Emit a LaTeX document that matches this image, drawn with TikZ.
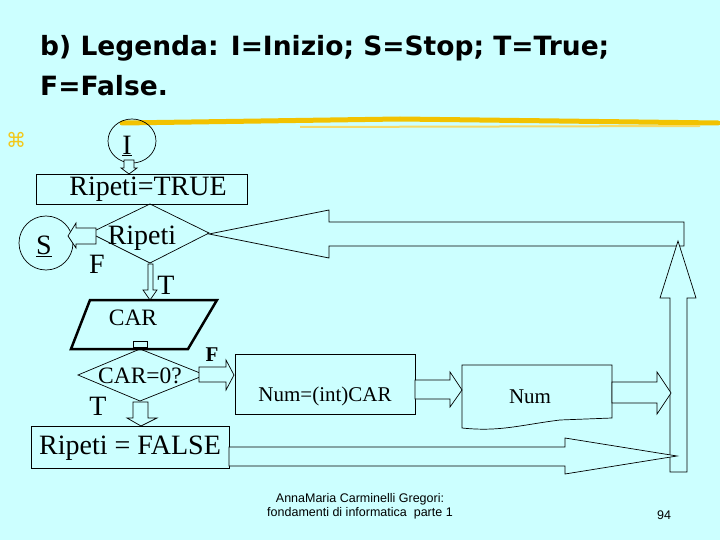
\documentclass[tikz,border=0pt]{standalone}
\usepackage{fontspec}
\setmainfont{Liberation Serif}
\newfontfamily\hd{Liberation Sans}
\newfontfamily\djfont{DejaVu Sans}
\usetikzlibrary{shapes.geometric}
\definecolor{bg}{HTML}{CCFFFF}
\definecolor{gold}{HTML}{F2C200}
\tikzset{x=1pt,y=-1pt,
 ln/.style={draw=black,line width=0.7pt},
 blk/.style={draw=black,line width=0.7pt,fill=bg},
 tx/.style={font=\fontsize{28}{30}\selectfont,inner sep=0pt},
 tm/.style={font=\fontsize{23.5}{25}\selectfont,inner sep=0pt}}
\begin{document}
\begin{tikzpicture}
\fill[bg] (0,0) rectangle (720,540);
\useasboundingbox (0,0) rectangle (720,540);
% title
\node[anchor=west,inner sep=0pt,font=\djfont\bfseries\fontsize{26.5}{30}\selectfont] (t1) at (40,48) {b) Legenda: I=Inizio; S=Stop; T=True;};
\node[anchor=west,inner sep=0pt,font=\djfont\bfseries\fontsize{26.5}{30}\selectfont] (t2) at (40,86) {F=False.};
\draw[gold,line width=5pt,line cap=round] (122,123) -- (400,119) -- (718,123);
\draw[gold!60,line width=2pt] (300,127) -- (700,126);
\node[font=\djfont\fontsize{20}{22}\selectfont,text=gold!90] (bul) at (16,140) {⌘};
% start
\draw[ln] (132,141) ellipse (24 and 22);
\node[tx] (I) at (127,146) {\underline{I}};
\draw[blk] (124,160) -- (134,160) -- (134,168) -- (137,168) -- (129,174) -- (121,168) -- (124,168) -- cycle;
\draw[ln,fill=bg] (36,174) rectangle (247,204);
\node[tx] (rt) at (148,189) {Ripeti=TRUE};
% ripeti diamond
\draw[ln] (150,204) -- (209,233) -- (150,263) -- (90,233) -- cycle;
\node[tx] (rp) at (142,238) {Ripeti};
\draw[ln] (46,243) ellipse (27 and 27);
\node[tx] (S) at (44,246) {\underline{S}};
\draw[blk] (96,228) -- (76,228) -- (76,223) -- (68,236) -- (76,248) -- (76,244) -- (96,244) -- cycle;
\node[tx] (F1) at (97,264) {F};
% loop back arrow
\draw[blk] (209,234) -- (329,210) -- (329,222) -- (684,222) -- (684,246) -- (329,246) -- (329,258) -- cycle;
\draw[blk] (670,472) -- (670,298) -- (660,298) -- (678,241) -- (696,298) -- (687,298) -- (687,472) -- cycle;
% T arrow
\draw[blk] (148,264) -- (153,264) -- (153,290) -- (157,290) -- (150,300) -- (143,290) -- (148,290) -- cycle;
\node[tx] (T1) at (166,285) {T};
% CAR input
\draw[line width=2.5pt] (90,300) -- (217,300) -- (188,349) -- (71,349) -- cycle;
\node[tm] (car) at (133,318) {CAR};
\draw[blk] (133,341) -- (147,341) -- (147,347) -- (133,347) -- cycle;
% CAR=0 diamond
\draw[ln] (140,349) -- (205,375) -- (140,401) -- (78,375) -- cycle;
\node[tm] (c0) at (140,376) {CAR=0?};
\draw[blk] (199,367) -- (226,367) -- (226,360) -- (234,375) -- (226,390) -- (226,382) -- (199,382) -- cycle;
\node[tm,font=\bfseries\fontsize{21}{22}\selectfont] (F2) at (212,355) {F};
\node[tx] (T2) at (98,406) {T};
\draw[blk] (133,402) -- (148,402) -- (148,418) -- (157,418) -- (141,426) -- (127,418) -- (133,418) -- cycle;
\draw[ln,fill=bg] (31,426) rectangle (229,468);
\node[tx] (rf) at (130,448) {Ripeti = FALSE};
\draw[blk] (229,447) -- (565,447) -- (565,438) -- (677,456) -- (565,474) -- (565,466) -- (229,466) -- cycle;
% Num=(int)CAR
\draw[ln] (235,354) rectangle (415,414);
\node[tm,font=\fontsize{21}{22}\selectfont] (nc) at (325,396) {Num=(int)CAR};
\draw[blk] (415,380) -- (450,380) -- (450,372) -- (462,390) -- (450,407) -- (450,399) -- (415,399) -- cycle;
\draw[ln] (462,365) -- (612,365) -- (612,418) -- (560,420) .. controls (520,425) and (500,432) .. (462,428) -- cycle;
\node[tm,font=\fontsize{21}{22}\selectfont] (num) at (530,397) {Num};
\draw[blk] (612,382) -- (657,382) -- (657,372) -- (671,393) -- (657,414) -- (657,403) -- (612,403) -- cycle;
% footer
\node[font=\hd\fontsize{12.5}{14}\selectfont,align=center,inner sep=0pt] (ft) at (360,506) {AnnaMaria Carminelli Gregori:\\fondamenti di informatica\ \ parte 1};
\node[font=\hd\fontsize{12.5}{14}\selectfont,inner sep=0pt] (pg) at (664,515) {94};
\end{tikzpicture}
\end{document}
